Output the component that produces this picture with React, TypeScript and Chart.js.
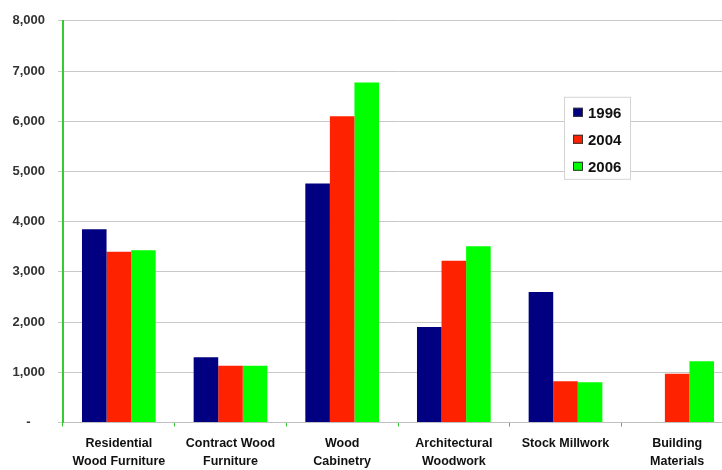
import React, { useEffect, useRef } from 'react';
import { Chart, registerables } from 'chart.js';

Chart.register(...registerables);

const categories: string[][] = [
  ['Residential', 'Wood Furniture'],
  ['Contract Wood', 'Furniture'],
  ['Wood', 'Cabinetry'],
  ['Architectural', 'Woodwork'],
  ['Stock Millwork'],
  ['Building', 'Materials'],
];
const seriesNames = ['1996', '2004', '2006'];
const values1996 = [3850, 1300, 4760, 1900, 2600, 0];
const values2004 = [3400, 1130, 6100, 3220, 820, 970];
const values2006 = [3430, 1130, 6770, 3510, 800, 1220];
const seriesColors = ['#000080', '#ff2200', '#00ff00'];
const yMin = 0;
const yMax = 8000;
const yStep = 1000;

const FONT = 'Arial, "Liberation Sans", sans-serif';

const legendBox = {
  id: 'legendBox',
  afterDraw(chart: any) {
    const { ctx, chartArea } = chart;
    const x = chartArea.left + 501;
    const y = chartArea.top + 76;
    const w = 66;
    const h = 82;
    ctx.save();
    ctx.fillStyle = '#ffffff';
    ctx.fillRect(x, y, w, h);
    ctx.strokeStyle = '#d4d4d4';
    ctx.lineWidth = 1;
    ctx.strokeRect(x + 0.5, y + 0.5, w, h);
    chart.data.datasets.forEach((ds: any, i: number) => {
      const cy = y + 16 + i * 27;
      ctx.fillStyle = ds.backgroundColor;
      ctx.fillRect(x + 9, cy - 5, 10, 9);
      ctx.strokeStyle = '#333';
      ctx.strokeRect(x + 9.5, cy - 4.5, 9, 8);
      ctx.fillStyle = '#111';
      ctx.font = 'bold 15px ' + FONT;
      ctx.textBaseline = 'middle';
      ctx.textAlign = 'left';
      ctx.fillText(ds.label, x + 24, cy + 1);
    });
    ctx.restore();
  },
};

export default function App() {
  const canvasRef = useRef<HTMLCanvasElement | null>(null);

  useEffect(() => {
    const canvas = canvasRef.current;
    if (!canvas) return;
    const allValues = [values1996, values2004, values2006];
    const chart = new Chart(canvas, {
      type: 'bar',
      data: {
        labels: categories,
        datasets: seriesNames.map((name, i) => ({
          label: name,
          data: allValues[i],
          backgroundColor: seriesColors[i],
          borderWidth: 0,
          categoryPercentage: 0.66,
          barPercentage: 1,
        })),
      },
      options: {
        responsive: false,
        animation: false,
        devicePixelRatio: 1,
        layout: { padding: { top: 15, right: 0, left: 0, bottom: 0 } },
        plugins: {
          legend: { display: false },
          tooltip: { enabled: false },
        },
        scales: {
          x: {
            afterFit: (s: any) => {
              s.height = 47.5;
            },
            grid: {
              display: true,
              drawOnChartArea: false,
              drawTicks: true,
              tickLength: 4,
              color: '#33cc33',
              lineWidth: 1,
            },
            border: { display: true, color: '#c0c0c0', width: 1 },
            ticks: {
              color: '#111',
              padding: 8,
              maxRotation: 0,
              autoSkip: false,
              font: { family: FONT, size: 12.5, weight: 'bold', lineHeight: 1.45 },
            },
          },
          y: {
            min: yMin,
            max: yMax,
            afterFit: (s: any) => {
              s.width = 63;
            },
            ticks: {
              stepSize: yStep,
              padding: 13,
              color: '#333',
              font: { family: FONT, size: 13, weight: 'bold' },
              callback: (v: any) => (Number(v) === 0 ? '-    ' : Number(v).toLocaleString('en-US')),
            },
            grid: {
              color: '#c8c8c8',
              lineWidth: 1,
              tickLength: 5,
              drawTicks: true,
            },
            border: { display: true, color: '#33cc33', width: 2 },
          },
        },
      },
      plugins: [legendBox],
    } as any);
    return () => chart.destroy();
  }, []);

  return (
    <div
      style={{
        position: 'fixed',
        left: 0,
        top: 0,
        width: 722,
        height: 470,
        overflow: 'hidden',
        background: '#fff',
      }}
    >
      <canvas ref={canvasRef} width={733} height={470} style={{ display: 'block' }} />
    </div>
  );
}
